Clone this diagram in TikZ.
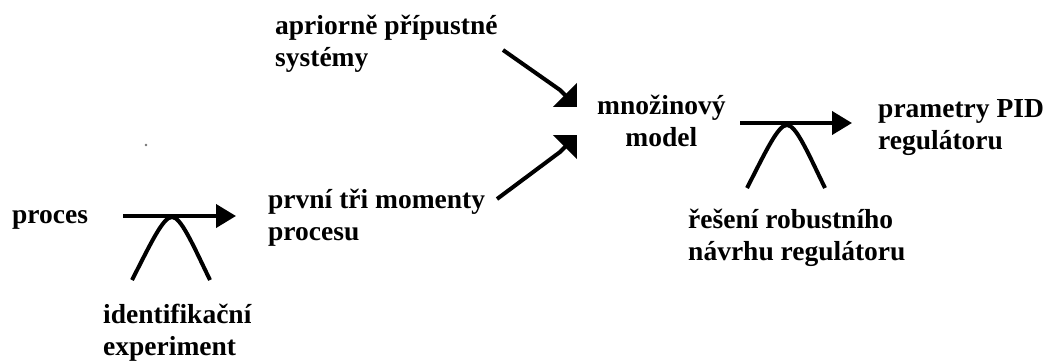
\documentclass[tikz,border=0pt]{standalone}
\usepackage{fontspec}
\setmainfont{Liberation Serif}
\usetikzlibrary{arrows.meta}

\tikzset{
  lbl/.style={anchor=base west, inner sep=0pt, align=left,
    font=\fontsize{27.5}{31.5}\selectfont\bfseries},
  flow/.style={line width=4pt, -{Triangle[length=20pt,width=23pt]}},
  wide/.style={line width=4pt, -{Triangle[length=17pt,width=33pt]}},
  arch/.style={line width=4pt},
  pics/support/.style={code={
    \draw[arch] (-40,63) .. controls (-21,26) and (-9,0) .. (0,0)
                        .. controls (9,0) and (21,28) .. (38,63);
  }}
}

\begin{document}
\begin{tikzpicture}[x=1pt,y=-1pt]
  \useasboundingbox (0,0) rectangle (1051,360);

  % labels (base anchor sits on the last line's baseline)
  \node[lbl] (proc)  at (12,223)  {proces};
  \node[lbl] (ident) at (103,355) {identifikační\\experiment};
  \node[lbl] (mom)   at (268,240) {první tři momenty\\procesu};
  \node[lbl] (apr)   at (275,66)  {apriorně přípustné\\systémy};
  \node[lbl, align=center] (mnoz) at (597,146) {množinový\\model};
  \node[lbl] (res)   at (688,260) {řešení robustního\\návrhu regulátoru};
  \node[lbl] (pid)   at (878,149) {prametry PID\\regulátoru};

  % connector end points
  \coordinate (s1) at (123,216);  \coordinate (t1) at (236,216);
  \coordinate (s2) at (503,50);   \coordinate (k2) at (560,90);  \coordinate (t2) at (577,107);
  \coordinate (s3) at (497,199);  \coordinate (k3) at (560,152); \coordinate (t3) at (577,135);
  \coordinate (s4) at (740,123);  \coordinate (t4) at (852,123);

  % arrows
  \draw[flow] (s1) -- (t1);
  \draw[wide] (s2) -- (k2) -- (t2);
  \draw[wide] (s3) -- (k3) -- (t3);
  \draw[flow] (s4) -- (t4);

  % mechanisms under the arrows
  \pic at (172,217) {support};
  \pic at (787,125) {support};

  % stray dot
  \fill[black!55] (146,145) circle (1.3);
\end{tikzpicture}
\end{document}
